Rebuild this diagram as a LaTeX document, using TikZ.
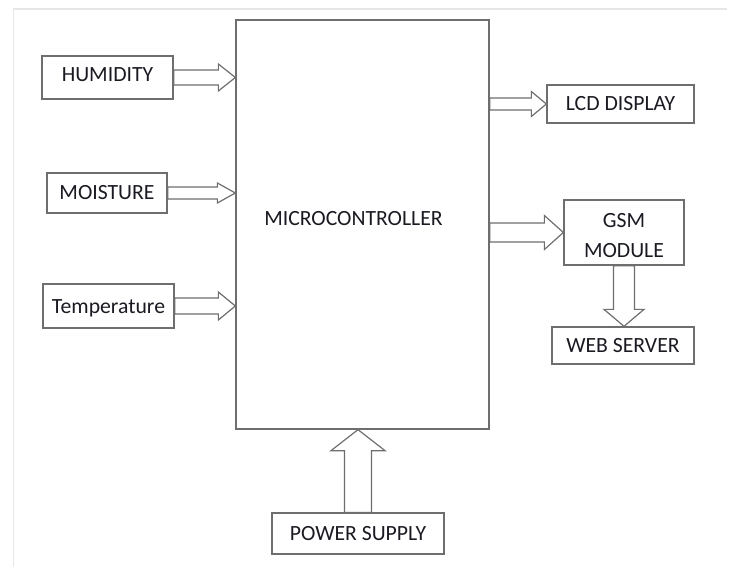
\documentclass[tikz,border=0pt]{standalone}
\usepackage{fontspec}
\setmainfont{Carlito}
\usetikzlibrary{calc}
\definecolor{ln}{HTML}{6E6E6E}
\definecolor{frm}{HTML}{E6E6E6}
\definecolor{txtc}{HTML}{1A1A22}
\tikzset{
  box/.style={draw=ln, line width=1.3pt, fill=white, inner sep=0pt,
    text height=14pt, text depth=0pt, text=txtc,
    font=\fontsize{21.7}{30}\selectfont},
  txt/.style={inner sep=0pt, text=txtc, font=\fontsize{21.7}{30}\selectfont},
  barrow/.style={draw=ln, line width=1.2pt, fill=white, line join=miter},
}
% right-pointing block arrow: source point, target point, shaft half, head half, head length
\newcommand\harrow[5]{\draw[barrow] let \p1=(#1), \p2=(#2) in
  (\x1,\y1+#3) -- (\x2-#5,\y1+#3) -- (\x2-#5,\y1+#4) -- (\x2,\y1) --
  (\x2-#5,\y1-#4) -- (\x2-#5,\y1-#3) -- (\x1,\y1-#3) -- cycle;}
% downward block arrow
\newcommand\darrow[5]{\draw[barrow] let \p1=(#1), \p2=(#2) in
  (\x1-#3,\y1) -- (\x1-#3,\y2+#5) -- (\x1-#4,\y2+#5) -- (\x1,\y2) --
  (\x1+#4,\y2+#5) -- (\x1+#3,\y2+#5) -- (\x1+#3,\y1) -- cycle;}
% upward block arrow
\newcommand\uarrow[5]{\draw[barrow] let \p1=(#1), \p2=(#2) in
  (\x1-#3,\y1) -- (\x1-#3,\y2-#5) -- (\x1-#4,\y2-#5) -- (\x1,\y2) --
  (\x1+#4,\y2-#5) -- (\x1+#3,\y2-#5) -- (\x1+#3,\y1) -- cycle;}
\begin{document}
\begin{tikzpicture}[x=1pt,y=-1pt]
\useasboundingbox (0,0) rectangle (731,567);
\fill[white] (0,0) rectangle (731,567);
\draw[frm, line width=1.6pt] (13.5,567) -- (13.5,9) -- (727,9);

\node[box, minimum width=253pt, minimum height=409pt] (mc) at (362.5,224.5) {};
\node[txt] (mclabel) at (353.5,219) {MICROCONTROLLER};

\node[box, minimum width=131pt, minimum height=43pt, text depth=6pt] (hum) at (107.5,77.5) {HUMIDITY};
\node[box, minimum width=120pt, minimum height=40pt] (moist) at (107,193) {MOISTURE};
\node[box, minimum width=131pt, minimum height=44pt] (temp) at (108.5,306) {Temperature};

\node[box, minimum width=147pt, minimum height=38pt] (lcd) at (620.5,104) {LCD DISPLAY};
\node[box, minimum width=120pt, minimum height=65pt] (gsm) at (624,232.5) {};
\node[txt, align=center] (gsmlabel) at (624,236) {GSM\\MODULE};
\node[box, minimum width=142pt, minimum height=37pt] (web) at (623,345.5) {WEB SERVER};
\node[box, minimum width=172pt, minimum height=41pt] (ps) at (358,533.5) {POWER SUPPLY};

\harrow{hum.east}{hum.east -| mc.west}{7.5pt}{13.5pt}{17pt}
\harrow{moist.east}{moist.east -| mc.west}{6pt}{10pt}{18pt}
\harrow{temp.east}{temp.east -| mc.west}{8pt}{14pt}{17pt}
\harrow{lcd.west -| mc.east}{lcd.west}{6pt}{12.5pt}{15pt}
\harrow{gsm.west -| mc.east}{gsm.west}{9.5pt}{17pt}{19pt}
\darrow{gsm.south}{gsm.south |- web.north}{10.5pt}{20pt}{17pt}
\uarrow{ps.north}{ps.north |- mc.south}{13.5pt}{27pt}{21pt}
\end{tikzpicture}
\end{document}
